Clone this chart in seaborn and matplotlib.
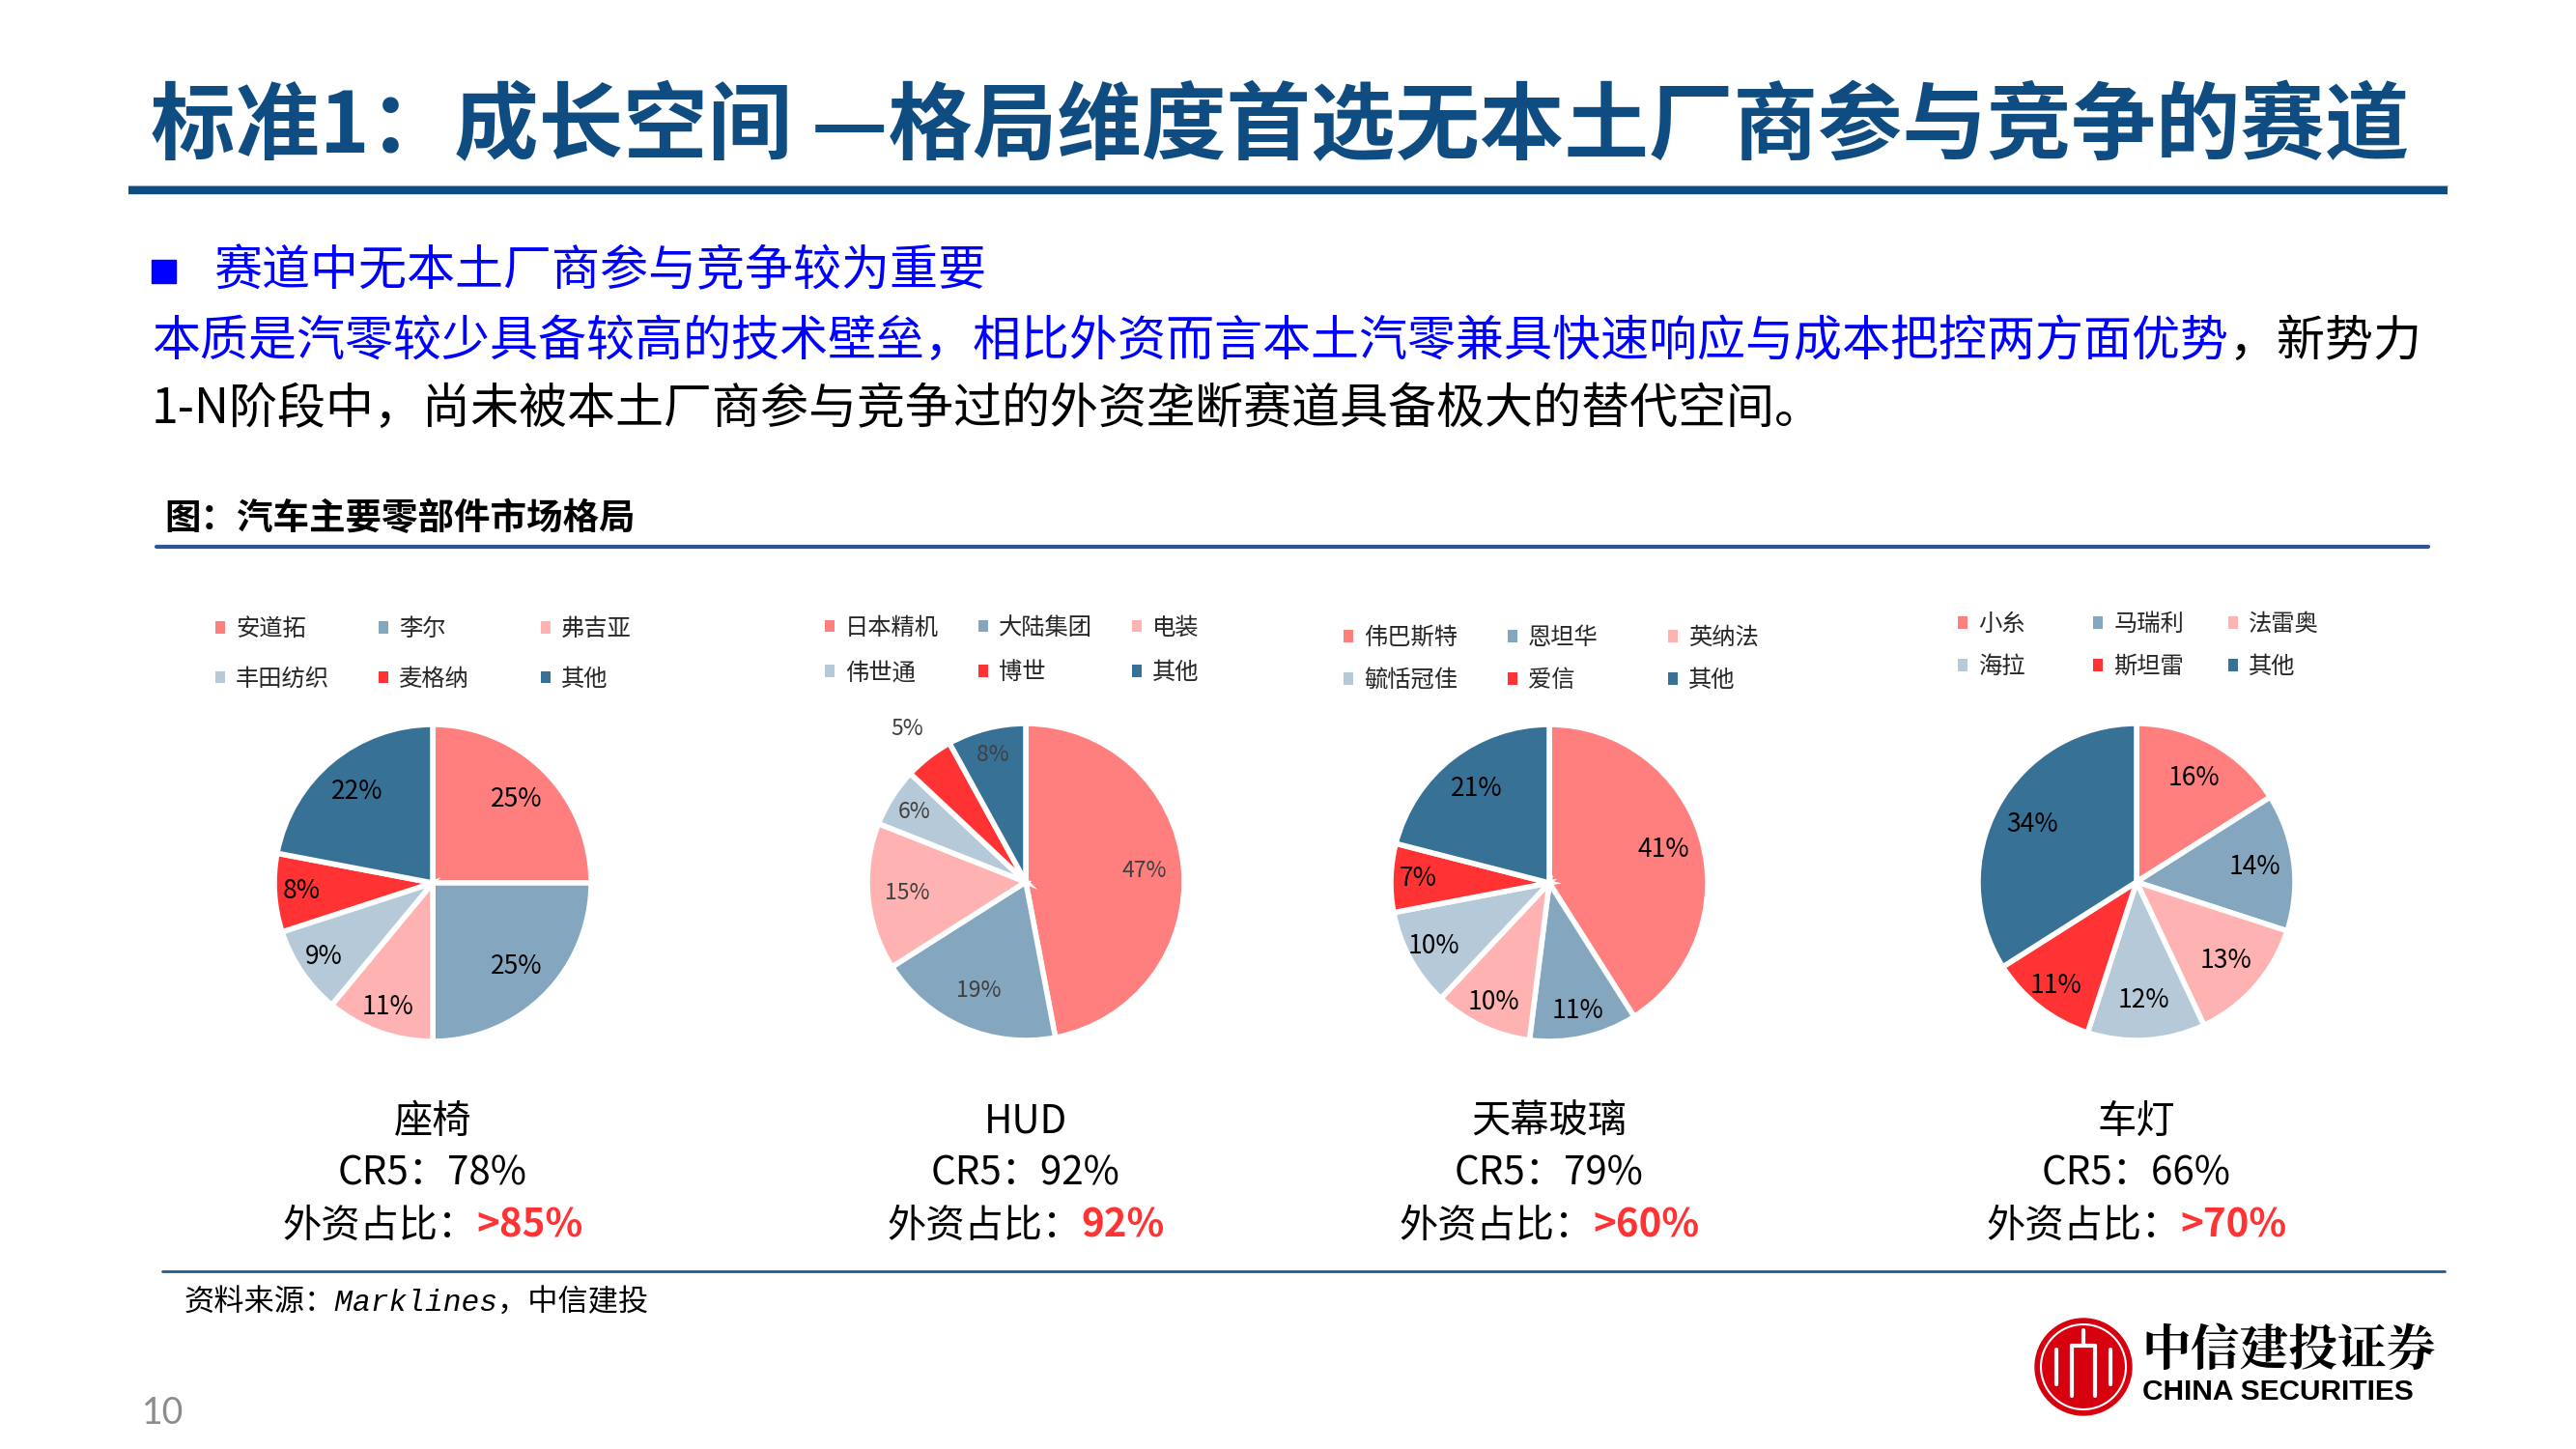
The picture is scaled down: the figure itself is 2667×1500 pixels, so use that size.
import matplotlib
matplotlib.use("Agg")
import matplotlib.pyplot as plt
from matplotlib.patches import Patch, Circle, Rectangle
import seaborn as sns

sns.set_theme(style="white")
plt.rcParams['font.family'] = ['Noto Sans CJK SC', 'DejaVu Sans']

# ---------------- data ----------------
parts = ['座椅', 'HUD', '天幕玻璃', '车灯']
cr5 = ['78%', '92%', '79%', '66%']
foreign_share = ['>85%', '92%', '>60%', '>70%']

seat_names = ['安道拓', '李尔', '弗吉亚', '丰田纺织', '麦格纳', '其他']
seat_share = [25, 25, 11, 9, 8, 22]
hud_names = ['日本精机', '大陆集团', '电装', '伟世通', '博世', '其他']
hud_share = [47, 19, 15, 6, 5, 8]
roof_names = ['伟巴斯特', '恩坦华', '英纳法', '毓恬冠佳', '爱信', '其他']
roof_share = [41, 11, 10, 10, 7, 21]
lamp_names = ['小糸', '马瑞利', '法雷奥', '海拉', '斯坦雷', '其他']
lamp_share = [16, 14, 13, 12, 11, 34]

title = '标准1：成长空间 —格局维度首选无本土厂商参与竞争的赛道'
bullet = '赛道中无本土厂商参与竞争较为重要'
line2_blue = '本质是汽零较少具备较高的技术壁垒，相比外资而言本土汽零兼具快速响应与成本把控两方面优势'
line2_black = '，新势力'
line3 = '1-N阶段中，尚未被本土厂商参与竞争过的外资垄断赛道具备极大的替代空间。'
fig_title = '图：汽车主要零部件市场格局'
source = '资料来源：Marklines，中信建投'

palette = sns.color_palette(['#FF7F7F', '#84A7BF', '#FFB2B2', '#B5C9D8', '#FF3333', '#377196'])

# ---------------- layout (pixels) ----------------
W, H = 2667, 1500
R = 164
centers = [(448, 914), (1062, 913), (1604, 914), (2212, 913)]
legend_x = [(223, 392, 560), (854, 1013, 1172), (1391, 1561, 1727), (2027, 2167, 2307)]
legend_y = [677, 673, 682, 668]
legend_gap = [1.05, 0.85, 0.75, 0.75]
pct_size = [19, 16.5, 19, 19]
pct_color = ['black', '#404040', 'black', 'black']

fig = plt.figure(figsize=(W / 100, H / 100), dpi=100)
ax0 = fig.add_axes([0, 0, 1, 1])
ax0.set_xlim(0, W)
ax0.set_ylim(H, 0)
ax0.axis('off')

# header
ax0.text(156, 133, title, fontsize=63, fontweight='bold', color='#0F4C81', va='center', ha='left')
ax0.plot([133, 2534], [192, 192], color='#A9BCD0', lw=0.8)
ax0.plot([133, 2534], [197, 197], color='#0F4C81', lw=6, solid_capstyle='butt')

ax0.add_patch(Rectangle((157, 269), 25, 24, color='#0000FF'))
ax0.text(221, 281, bullet, fontsize=36, color='#0000FF', va='center', ha='left')
t_blue = ax0.text(157, 354, line2_blue, fontsize=36, color='#0000FF', va='center', ha='left')
ax0.annotate(line2_black, xy=(1, 0), xycoords=t_blue, fontsize=36, color='black', va='bottom', ha='left')
ax0.text(157, 424, line3, fontsize=36, color='black', va='center', ha='left')

ax0.text(170, 537, fig_title, fontsize=27, fontweight='bold', color='black', va='center', ha='left')
ax0.plot([162, 2514], [566, 566], color='#2F5496', lw=3)

# pies
datasets = [(seat_names, seat_share), (hud_names, hud_share),
            (roof_names, roof_share), (lamp_names, lamp_share)]
mixed = []
for i, (names, share) in enumerate(datasets):
    cx, cy = centers[i]
    ax = fig.add_axes([(cx - 1.25 * R) / W, 1 - (cy + 1.25 * R) / H, 2.5 * R / W, 2.5 * R / H])
    wedges, texts, autotexts = ax.pie(
        share, colors=palette, startangle=90, counterclock=False,
        autopct=lambda p: f'{p:.0f}%', pctdistance=0.75,
        wedgeprops=dict(edgecolor='white', linewidth=4),
        textprops=dict(fontsize=pct_size[i], color=pct_color[i]))
    ax.set_xlim(-1.25, 1.25)
    ax.set_ylim(-1.25, 1.25)
    ax.set_aspect('equal')
    for v, t in zip(share, autotexts):
        x, y = t.get_position()
        k = 0.75
        if v <= 5:
            k = 1.22
        elif v <= 11:
            k = 0.83
        t.set_position((x * k / 0.75, y * k / 0.75))

    handles = [Patch(facecolor=c, edgecolor='none') for c in palette]
    for j in range(3):
        fig.legend(handles=[handles[j], handles[j + 3]], labels=[names[j], names[j + 3]],
                   loc='center left', bbox_to_anchor=(legend_x[i][j] / W, 1 - legend_y[i] / H),
                   frameon=False, fontsize=17.5, handlelength=0.42, handleheight=0.42,
                   handletextpad=0.45, borderpad=0, borderaxespad=0, labelspacing=legend_gap[i])

    ax0.text(cx, 1161, parts[i], fontsize=29, color='black', ha='center', va='center')
    ax0.text(cx, 1215, f'CR5：{cr5[i]}', fontsize=29, color='black', ha='center', va='center')
    tb = ax0.text(cx, 1269, '外资占比：', fontsize=29, color='black', ha='left', va='center')
    tr = ax0.annotate(foreign_share[i], xy=(1, 0), xycoords=tb, fontsize=29, fontweight='bold',
                      color='#FF3333', va='bottom', ha='left')
    mixed.append((cx, tb, tr))

# footer
ax0.plot([168, 2531], [1316, 1316], color='#1F5C8B', lw=2)
ax0.text(190, 1350, source, fontsize=22.5, style='italic', color='black',
         family=['Liberation Mono', 'Noto Sans CJK SC'], va='center', ha='left')
ax0.text(147, 1463, '10', fontsize=27, color='#8C8C8C', family=['Lato', 'DejaVu Sans'],
         va='center', ha='left')

# logo
lx, ly = 2157, 1415
ax0.add_patch(Circle((lx, ly), 50, color='#D7000F'))
ax0.add_patch(Circle((lx, ly), 44, fill=False, ec='white', lw=1.5))
for dx in (-12, 12):
    ax0.plot([lx + dx, lx + dx], [ly - 22, ly + 30], color='white', lw=3)
ax0.plot([lx - 12, lx + 12], [ly - 22, ly - 22], color='white', lw=3)
ax0.plot([lx, lx], [ly - 38, ly - 22], color='white', lw=3)
for dx in (-28, 28):
    ax0.plot([lx + dx, lx + dx], [ly - 18, ly + 18], color='white', lw=3)
ax0.text(2217, 1399, '中信建投证券', fontsize=36.5, fontweight='bold', color='black',
         family=['Noto Serif CJK SC', 'Noto Sans CJK SC'], va='center', ha='left')
ax0.text(2218, 1441, 'CHINA SECURITIES', fontsize=21.5, fontweight='bold', color='black',
         family=['Liberation Sans', 'DejaVu Sans'], va='center', ha='left')

# center the two-colour lines under each pie
fig.canvas.draw()
for cx, tb, tr in mixed:
    bb1 = tb.get_window_extent()
    bb2 = tr.get_window_extent()
    total = bb2.x1 - bb1.x0
    tb.set_x(cx - total / 2)

fig.savefig('out.png', dpi=100)
